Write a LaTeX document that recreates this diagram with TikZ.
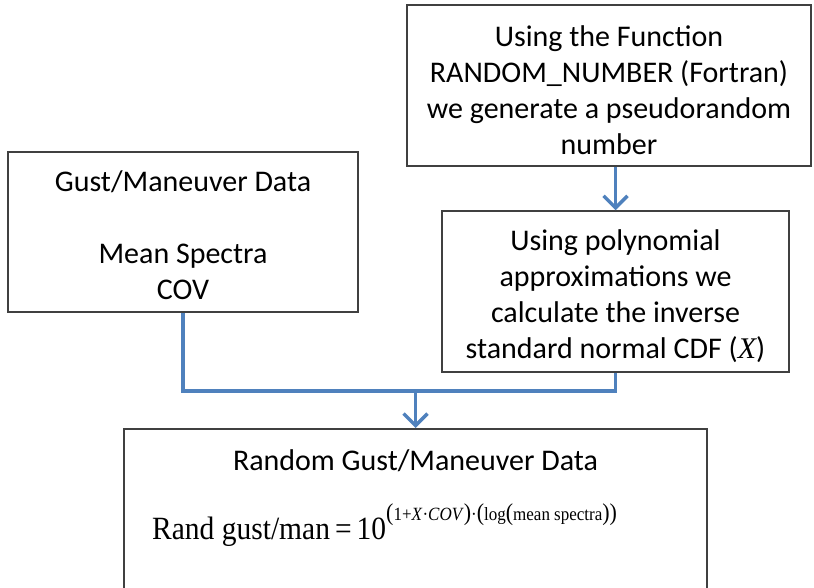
\documentclass[tikz,border=0pt]{standalone}
\usepackage{fontspec}
\setmainfont{Carlito}
\newfontfamily\eqfont{Liberation Serif}
\usetikzlibrary{arrows.meta}
\definecolor{connblue}{HTML}{4F81BD}
\definecolor{boxline}{HTML}{404040}
\newcommand{\supbig}[1]{{\fontsize{22}{22}\selectfont #1}}
\newcommand{\supsm}[1]{{\fontsize{17}{17}\selectfont #1}}
\begin{document}
\begin{tikzpicture}[x=1pt,y=-1pt,
  box/.style={draw=boxline,line width=1.5pt,fill=white,inner sep=0pt},
  lbl/.style={inner sep=0pt,align=center,font=\fontsize{30}{36}\selectfont},
  conn/.style={draw=connblue,line width=3.5pt,line join=miter},
  tip/.style={-{Straight Barb[length=12pt,width=24pt]}}]
\useasboundingbox (0,0) rectangle (814,588);
% boxes
\node[box,minimum width=404,minimum height=161] (fn) at (609,85.5) {};
\node[box,minimum width=350,minimum height=160] (gust) at (183,232) {};
\node[box,minimum width=347,minimum height=161] (inv) at (615.5,291.5) {};
\node[box,minimum width=583,minimum height=172,anchor=north] (res) at (415.5,428) {};
% texts
\node[lbl] (fntext) at (609,90)
  {Using the Function\\RANDOM\_NUMBER (Fortran)\\we generate a pseudorandom\\number};
\node[lbl] (gusttext) at (183,235)
  {Gust/Maneuver Data\\[36pt]Mean Spectra\\COV};
\node[lbl] (invtext) at (615.5,296)
  {Using polynomial\\approximations we\\calculate the inverse\\standard normal CDF ({\eqfont\itshape X})};
\node[lbl] (restitle) at (415.5,461) {Random Gust/Maneuver Data};
\node[inner sep=0pt,anchor=base west] (eq) at (152,539)
  {\scalebox{1}[1.1]{\eqfont\fontsize{29.5}{30}\selectfont Rand gust/man\hspace{0.17em}=\hspace{0.17em}10\raisebox{17pt}{%
   \supbig{(}\supsm{1+\textit{X}·\textit{COV}}\supbig{)}\supsm{·}\supbig{(}%
   \supsm{log}\supbig{(}\supsm{mean spectra}\supbig{))}}}};
% connectors
\coordinate (j) at (res.north |- 0,391);
\draw[conn,tip] (fn.south -| inv.north) -- (inv.north);
\draw[conn] (gust.south) |- (j -| inv.south) -- (inv.south);
\draw[conn,tip] (j) -- (res.north);
\end{tikzpicture}
\end{document}
